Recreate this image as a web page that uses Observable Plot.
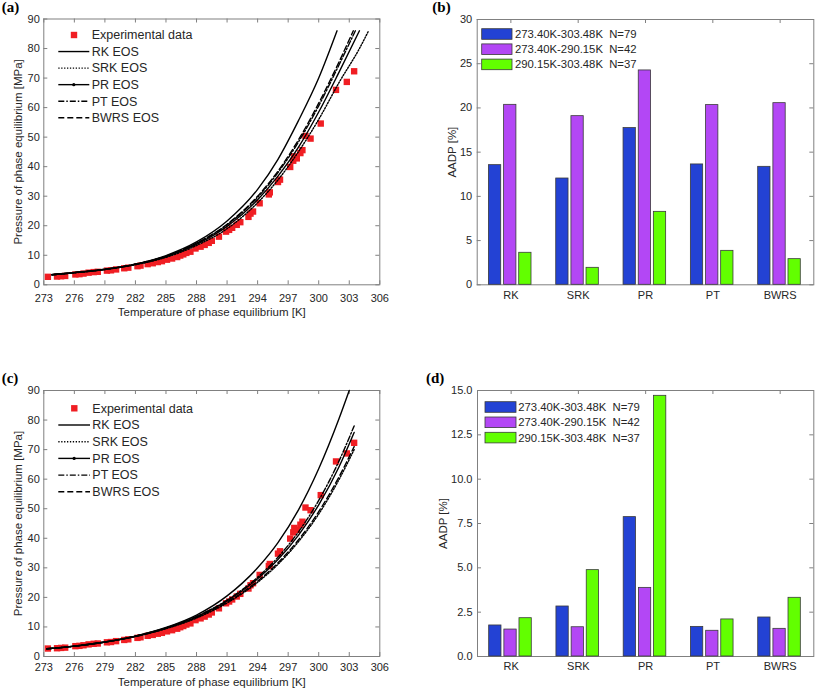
<!DOCTYPE html>
<html>
<head>
<meta charset="utf-8">
<script src="https://cdn.jsdelivr.net/npm/d3@7"></script>
<script src="https://cdn.jsdelivr.net/npm/@observablehq/plot@0.6"></script>
<style>
  body { margin: 0; background: #fff; }
  #wrap { position: relative; width: 815px; height: 690px; background: #fff; overflow: hidden; }
  .panel { position: absolute; }
  .plabel { position: absolute; font-family: "Liberation Serif", "Times New Roman", serif; font-weight: bold; font-size: 15px; line-height: 15px; color: #000; }
</style>
</head>
<body>
<div id="wrap"></div>
<script>
// ---------------- DATA ----------------
// Experimental hydrate equilibrium data
const expT = [273.40,274.30,274.70,275.10,276.10,276.50,276.90,277.40,277.90,278.30,279.20,279.60,280.10,280.90,281.30,282.20,282.50,283.20,283.70,284.20,284.60,285.10,285.60,286.10,286.40,286.70,287.00,287.40,287.90,288.40,288.80,289.20,289.50,290.20,290.90,291.20,291.50,291.95,292.30,293.10,293.30,293.55,294.20,295.10,295.20,296.00,296.20,297.20,297.50,297.60,297.85,298.20,298.40,298.70,299.20,300.20,301.70,302.76,303.48];
const expP = [2.7,2.8,2.9,3.0,3.5,3.6,3.8,4.1,4.3,4.4,4.8,4.9,5.2,5.6,5.8,6.3,6.5,7.0,7.3,7.7,8.0,8.5,8.9,9.4,9.9,10.3,10.8,11.2,12.3,12.9,13.5,14.2,14.9,16.3,18.0,18.6,19.3,20.3,21.2,23.0,24.1,24.8,27.6,30.6,31.3,34.8,35.6,39.9,42.0,43.5,42.8,44.6,45.6,50.4,49.5,54.6,66.0,68.7,72.3];

// Panel (a) model curves
const aRK_T   = [273.8,276,279,282,285,288,291,294,296,298,300,301.8];
const aRK_P   = [3.5,4.2,5.3,7.0,9.9,14.5,21.6,32.3,42.5,55.5,70.0,86.0];
const aSRK_T  = [273.8,276,279,282,285,288,291,294,296,298,300,302,304,304.9];
const aSRK_P  = [3.35,4.05,5.15,6.8,9.3,13.3,19.0,27.8,35.5,45.0,56.0,68.5,80.0,86.0];
const aPR_T   = [273.8,276,279,282,285,288,291,294,296,298,300,302,304.0];
const aPR_P   = [3.4,4.1,5.2,6.9,9.5,13.7,19.8,28.8,36.8,46.5,58.5,72.0,86.0];
const aPT_T   = [273.8,276,279,282,285,288,291,294,296,298,300,302,303.6];
const aPT_P   = [3.4,4.1,5.22,6.95,9.65,14.0,20.3,29.6,38.0,48.3,60.6,74.5,86.0];
const aBWRS_T = [273.8,276,279,282,285,288,291,294,296,298,300,302,303.4];
const aBWRS_P = [3.4,4.12,5.25,7.0,9.7,14.1,20.5,30.0,38.5,49.0,61.5,75.5,86.0];

// Panel (c) model curves
const cRK_T   = [273.3,276,279,282,285,288,291,294,296,298,300,302,303.0];
const cRK_P   = [2.6,3.5,4.9,6.9,9.8,14.0,20.5,30.0,38.5,49.5,63.5,80.5,90.0];
const cT      = [273.3,276,279,282,285,288,291,294,296,298,300,302,303.48];
const cSRK_P  = [2.6,3.47,4.85,6.75,9.4,13.0,18.1,25.1,31.2,38.8,48.2,59.9,70.0];
const cPR_P   = [2.6,3.5,4.9,6.85,9.6,13.4,18.8,26.3,32.8,41.0,51.3,64.2,75.8];
const cPT_P   = [2.6,3.52,4.93,6.9,9.7,13.6,19.1,26.8,33.6,42.1,52.8,66.2,78.0];
const cBWRS_P = [2.6,3.48,4.87,6.8,9.5,13.2,18.4,25.5,31.7,39.4,49.0,60.8,71.0];

// Bar panels
const cats = ["RK","SRK","PR","PT","BWRS"];
const rangeLabels = ["273.40K-303.48K  N=79","273.40K-290.15K  N=42","290.15K-303.48K  N=37"];
const bAll  = [13.53,12.02,17.72,13.61,13.34];
const bLow  = [20.35,19.07,24.24,20.32,20.54];
const bHigh = [3.62,1.92,8.25,3.84,2.90];
const dAll  = [1.75,2.82,7.86,1.67,2.20];
const dLow  = [1.52,1.65,3.87,1.45,1.56];
const dHigh = [2.16,4.87,14.70,2.09,3.31];

// Ticks & labels
const xTicks = [273,276,279,282,285,288,291,294,297,300,303,306];
const pTicks = [0,10,20,30,40,50,60,70,80,90];
const bTicks = [0,5,10,15,20,25,30];
const dTicks = [0,2.5,5,7.5,10,12.5,15];
const legendLabels = ["Experimental data","RK EOS","SRK EOS","PR EOS","PT EOS","BWRS EOS"];
const xTitle = "Temperature of phase equilibrium [K]";
const yTitleP = "Pressure of phase equilibrium [MPa]";
const yTitleB = "AADP [%]";
const panelLabels = ["(a)","(b)","(c)","(d)"];

// ---------------- STYLE ----------------
const FRAME = "#808080";
const TXT = "#262626";
const RED = "#f01e23";
const COLORS = ["#2342d4","#b347f5","#62ff00"];
const FONT = '"Liberation Sans", Arial, sans-serif';
const TL = 4;
const LW = 1.4;
const eosStyles = [
  {dash: undefined},
  {dash: "1.3,1.6"},
  {dash: undefined, marker: true},
  {dash: "6,2,1.5,2"},
  {dash: "6,3"}
];

const rows = (T, P) => T.map((t, i) => ({T: t, P: P[i]}));
const expRows = rows(expT, expP);

function lineLegend(svg, ml, mt, L) {
  const g = d3.select(svg).append("g")
    .attr("font-family", FONT).attr("font-size", 12.5).attr("fill", TXT)
    .attr("text-anchor", "start");
  legendLabels.forEach((lab, i) => {
    const y = mt + L.y0 + L.dy * i;
    if (i === 0) {
      g.append("rect").attr("x", ml + L.sq - 3.2).attr("y", y - 3.2)
        .attr("width", 6.4).attr("height", 6.4).attr("fill", RED);
    } else {
      const s = eosStyles[i - 1];
      const ln = g.append("line").attr("x1", ml + L.l1).attr("x2", ml + L.l2)
        .attr("y1", y).attr("y2", y).attr("stroke", "#000").attr("stroke-width", LW);
      if (s.dash) ln.attr("stroke-dasharray", s.dash);
      if (s.marker) g.append("circle").attr("cx", ml + (L.l1 + L.l2) / 2).attr("cy", y).attr("r", 1.6).attr("fill", "#000");
    }
    g.append("text").attr("x", ml + L.tx).attr("y", y).attr("dy", "0.35em")
      .attr("text-anchor", "start").text(lab);
  });
}

function linePanel(cfg) {
  const {W, H, mt, mb, ml, mr, curves, xPad, xTitleDy, yTitleDx, legend} = cfg;
  const fh = H - mt - mb, fw = W - ml - mr;
  const marks = [
    Plot.frame({stroke: FRAME}),
    Plot.ruleX(xTicks, {x: d => d, insetTop: fh - TL, stroke: FRAME}),
    Plot.ruleX(xTicks, {x: d => d, insetBottom: fh - TL, stroke: FRAME}),
    Plot.ruleY(pTicks, {y: d => d, insetRight: fw - TL, stroke: FRAME}),
    Plot.ruleY(pTicks, {y: d => d, insetLeft: fw - TL, stroke: FRAME}),
    Plot.dot(expRows, {x: "T", y: "P", symbol: "square", r: 3.6, fill: RED}),
    ...curves.map((c, k) => Plot.line(rows(c.T, c.P), {
      x: "T", y: "P", stroke: "#000", strokeWidth: LW,
      strokeDasharray: eosStyles[k].dash, curve: "monotone-x"
    })),
    Plot.axisX(xTicks, {tickSize: 0, tickPadding: xPad, fontSize: 11, label: null}),
    Plot.axisY(pTicks, {tickSize: 0, tickPadding: 4, fontSize: 11, label: null}),
    Plot.text([xTitle], {frameAnchor: "bottom", dy: xTitleDy, text: d => d, fontSize: 11.5, fill: TXT,
      textAnchor: "middle", lineAnchor: "middle"}),
    Plot.text([yTitleP], {frameAnchor: "left", dx: yTitleDx, rotate: -90, text: d => d, fontSize: 11.5, fill: TXT,
      textAnchor: "middle", lineAnchor: "middle"})
  ];
  const svg = Plot.plot({
    width: W, height: H, marginTop: mt, marginBottom: mb, marginLeft: ml, marginRight: mr,
    x: {domain: [273, 306]}, y: {domain: [0, 90]},
    style: {fontFamily: FONT, color: TXT, background: "transparent"},
    marks
  });
  lineLegend(svg, ml, mt, legend);
  return svg;
}

function barLegend(svg, ml, mt, L) {
  const g = d3.select(svg).append("g")
    .attr("font-family", FONT).attr("font-size", 11.3).attr("fill", TXT)
    .attr("text-anchor", "start");
  rangeLabels.forEach((lab, k) => {
    const y = mt + L.y0 + L.dy * k;
    g.append("rect").attr("x", ml + L.x1).attr("y", y - 5.3)
      .attr("width", L.x2 - L.x1).attr("height", 10.6)
      .attr("fill", COLORS[k]).attr("stroke", "#3a3a3a").attr("stroke-width", 0.8);
    g.append("text").attr("x", ml + L.tx).attr("y", y).attr("dy", "0.35em")
      .attr("text-anchor", "start").style("white-space", "pre").text(lab);
  });
}

function barPanel(cfg) {
  const {W, H, mt, mb, ml, mr, series, yTicks, yFmt, ydom, yTitleDx, legend} = cfg;
  const fh = H - mt - mb, fw = W - ml - mr;
  const bw = fw / cats.length;
  const BARW = 12.3;
  const inset = (bw - BARW) / 2;
  const DX = [-15.8, -0.6, 14.5];
  const marks = [
    Plot.frame({stroke: FRAME}),
    Plot.ruleX(cats, {x: d => d, insetTop: fh - TL, stroke: FRAME}),
    Plot.ruleX(cats, {x: d => d, insetBottom: fh - TL, stroke: FRAME}),
    Plot.ruleY(yTicks, {y: d => d, insetRight: fw - TL, stroke: FRAME}),
    Plot.ruleY(yTicks, {y: d => d, insetLeft: fw - TL, stroke: FRAME}),
    ...series.map((vals, k) => Plot.barY(cats.map((c, i) => ({cat: c, v: vals[i]})), {
      x: "cat", y: "v", fill: COLORS[k], stroke: "#3a3a3a", strokeWidth: 0.8,
      insetLeft: inset, insetRight: inset, dx: DX[k]
    })),
    Plot.axisX({tickSize: 0, tickPadding: 6, fontSize: 11, label: null}),
    Plot.axisY(yTicks, {tickSize: 0, tickPadding: 5, fontSize: 11, tickFormat: yFmt, label: null}),
    Plot.text([yTitleB], {frameAnchor: "left", dx: yTitleDx, rotate: -90, text: d => d, fontSize: 11.5, fill: TXT,
      textAnchor: "middle", lineAnchor: "middle"})
  ];
  const svg = Plot.plot({
    width: W, height: H, marginTop: mt, marginBottom: mb, marginLeft: ml, marginRight: mr,
    x: {type: "band", domain: cats, padding: 0, round: false},
    y: {domain: ydom},
    style: {fontFamily: FONT, color: TXT, background: "transparent"},
    marks
  });
  barLegend(svg, ml, mt, legend);
  return svg;
}

// ---------------- BUILD ----------------
const wrap = document.getElementById("wrap");
function place(svg, left, top, w, h) {
  const d = document.createElement("div");
  d.className = "panel";
  d.style.left = left + "px"; d.style.top = top + "px";
  d.style.width = w + "px"; d.style.height = h + "px";
  d.appendChild(svg);
  wrap.appendChild(d);
}

const svgA = linePanel({
  W: 400, H: 330, mt: 18.5, mb: 45.7, ml: 43.3, mr: 20.7,
  curves: [{T: aRK_T, P: aRK_P}, {T: aSRK_T, P: aSRK_P}, {T: aPR_T, P: aPR_P}, {T: aPT_T, P: aPT_P}, {T: aBWRS_T, P: aBWRS_P}],
  xPad: 9, xTitleDy: 27.4, yTitleDx: -25.6,
  legend: {y0: 16.5, dy: 16.55, sq: 30.7, l1: 15, l2: 46, tx: 48.4}
});
place(svgA, 0, 0, 400, 330);

const svgB = barPanel({
  W: 415, H: 330, mt: 19, mb: 45.7, ml: 76.7, mr: 1.7,
  series: [bAll, bLow, bHigh], yTicks: bTicks, yFmt: d3.format("d"), ydom: [0, 30], yTitleDx: -25,
  legend: {y0: 15, dy: 15.2, x1: 5, x2: 35.3, tx: 38.3}
});
place(svgB, 400, 0, 415, 330);

const svgC = linePanel({
  W: 400, H: 355, mt: 55, mb: 34, ml: 43.3, mr: 20.7,
  curves: [{T: cRK_T, P: cRK_P}, {T: cT, P: cSRK_P}, {T: cT, P: cPR_P}, {T: cT, P: cPT_P}, {T: cT, P: cBWRS_P}],
  xPad: 7, xTitleDy: 26.3, yTitleDx: -25.6,
  legend: {y0: 18.3, dy: 16.7, sq: 31, l1: 15, l2: 46.7, tx: 49}
});
place(svgC, 0, 335, 400, 355);

const svgD = barPanel({
  W: 415, H: 355, mt: 55, mb: 34, ml: 77, mr: 1.7,
  series: [dAll, dLow, dHigh], yTicks: dTicks, yFmt: d3.format(".1f"), ydom: [0, 15], yTitleDx: -34.3,
  legend: {y0: 17, dy: 15.3, x1: 8, x2: 39, tx: 41.3}
});
place(svgD, 400, 335, 415, 355);

// Panel letters
const labelPos = [[1.7, 0], [432.3, 0], [1.7, 370.5], [426, 370.5]];
panelLabels.forEach((t, i) => {
  const d = document.createElement("div");
  d.className = "plabel";
  d.style.left = labelPos[i][0] + "px";
  d.style.top = labelPos[i][1] + "px";
  d.textContent = t;
  wrap.appendChild(d);
});
</script>
</body>
</html>
